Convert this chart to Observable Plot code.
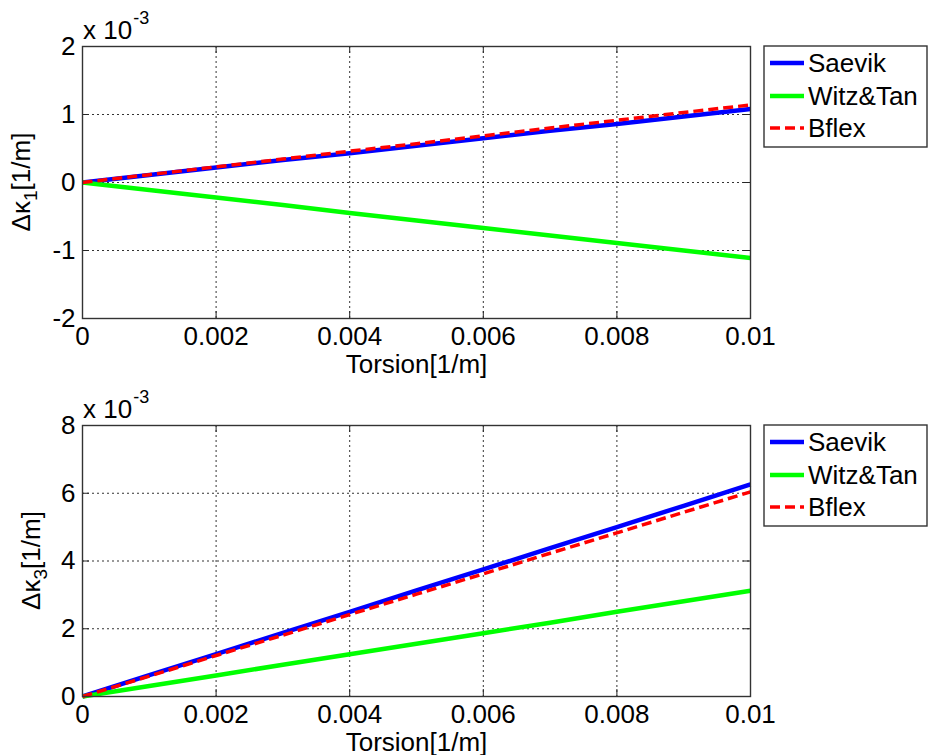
<!DOCTYPE html>
<html>
<head>
<meta charset="utf-8">
<script src="https://cdn.jsdelivr.net/npm/d3@7"></script>
<script src="https://cdn.jsdelivr.net/npm/@observablehq/plot@0.6"></script>
<style>
  html, body { margin: 0; padding: 0; background: #fff; }
  #fig { width: 928px; height: 755px; overflow: hidden; }
  #fig svg { display: block; }
</style>
</head>
<body>
<div id="fig"></div>
<script>
// Torsion [1/m] sample points
const torsion = [0, 0.001, 0.002, 0.003, 0.004, 0.005, 0.006, 0.007, 0.008, 0.009, 0.01];

// Δκ1 [1/m], in units of 1e-3
const k1Saevik = [0, 0.11, 0.22, 0.33, 0.43, 0.54, 0.65, 0.76, 0.86, 0.97, 1.08];
const k1Witz   = [0, -0.11, -0.22, -0.33, -0.45, -0.56, -0.67, -0.78, -0.89, -1.00, -1.11];
const k1Bflex  = [0, 0.115, 0.23, 0.345, 0.46, 0.57, 0.685, 0.80, 0.915, 1.03, 1.14];

// Δκ3 [1/m], in units of 1e-3
const k3Saevik = [0, 0.63, 1.25, 1.88, 2.50, 3.13, 3.75, 4.38, 5.00, 5.63, 6.26];
const k3Witz   = [0, 0.31, 0.62, 0.94, 1.25, 1.56, 1.87, 2.18, 2.50, 2.81, 3.12];
const k3Bflex  = [0, 0.60, 1.21, 1.81, 2.42, 3.02, 3.62, 4.23, 4.83, 5.44, 6.04];

const seriesNames = ["Saevik", "Witz&Tan", "Bflex"];

// Axis ticks and their labels
const xTicks = [0, 0.002, 0.004, 0.006, 0.008, 0.01];
const xTickLabels = ["0", "0.002", "0.004", "0.006", "0.008", "0.01"];
const k1Ticks = [-2, -1, 0, 1, 2];
const k1TickLabels = ["-2", "-1", "0", "1", "2"];
const k3Ticks = [0, 2, 4, 6, 8];
const k3TickLabels = ["0", "2", "4", "6", "8"];

const xLabel = "Torsion[1/m]";
const exponentText = ["x 10", "-3"];

// Line styles for each series
const styles = [
  {stroke: "#0000ff", strokeWidth: 4.5, dash: null},
  {stroke: "#00ff00", strokeWidth: 4.5, dash: null},
  {stroke: "#ff0000", strokeWidth: 3.5, dash: "10,5"}
];

const FONT = "'Liberation Sans', Arial, Helvetica, sans-serif";
const W = 928, ML = 82, MR = 178;
const TICK = 7;

function rows(values) {
  return torsion.map((t, i) => ({t, v: values[i]}));
}

function panel({height, marginTop, marginBottom, yDomain, yTicks, yTickLabels, series, sub, labelX}) {
  const plotW = W - ML - MR;
  const plotH = height - marginTop - marginBottom;
  const fmtX = d => xTickLabels[xTicks.indexOf(d)];
  const fmtY = d => yTickLabels[yTicks.indexOf(d)];
  const gridStyle = {stroke: "#000", strokeOpacity: 0.8, strokeWidth: 1, strokeDasharray: "2,3"};
  const tickStyle = {stroke: "#262626", strokeWidth: 1};
  const svg = Plot.plot({
    width: W, height, marginTop, marginBottom, marginLeft: ML, marginRight: MR,
    style: {fontFamily: FONT, fontSize: "26px", color: "#000", background: "#fff", overflow: "visible"},
    x: {domain: [0, 0.01]},
    y: {domain: yDomain},
    marks: [
      Plot.gridX(xTicks.slice(1, -1), gridStyle),
      Plot.gridY(yTicks.slice(1, -1), gridStyle),
      Plot.tickX(xTicks, {x: d => d, insetTop: plotH - TICK, ...tickStyle}),
      Plot.tickX(xTicks, {x: d => d, insetBottom: plotH - TICK, ...tickStyle}),
      Plot.tickY(yTicks, {y: d => d, insetRight: plotW - TICK, ...tickStyle}),
      Plot.tickY(yTicks, {y: d => d, insetLeft: plotW - TICK, ...tickStyle}),
      Plot.axisX(xTicks, {tickSize: 0, tickPadding: 8, tickFormat: fmtX, fontSize: 26,
        label: xLabel, labelAnchor: "center", labelArrow: "none", labelOffset: 54}),
      Plot.axisY(yTicks, {tickSize: 0, tickPadding: 7, tickFormat: fmtY, fontSize: 26, label: null}),
      ...series.map((vals, i) => Plot.line(rows(vals), {
        x: "t", y: "v", stroke: styles[i].stroke, strokeWidth: styles[i].strokeWidth,
        strokeDasharray: styles[i].dash, strokeLinecap: "butt", strokeLinejoin: "round"
      })),
      Plot.frame({stroke: "#333", strokeWidth: 1.4})
    ]
  });

  const s = d3.select(svg);

  // exponent note above the axes
  const ex = s.append("text")
    .attr("x", ML + 1).attr("y", marginTop - 7)
    .attr("text-anchor", "start")
    .attr("font-family", FONT).attr("font-size", 26).attr("fill", "#000");
  ex.append("tspan").text(exponentText[0]);
  ex.append("tspan").attr("dy", -15).attr("font-size", 18).attr("dx", 1).text(exponentText[1]);

  // y-axis title with subscript
  const cy = marginTop + plotH / 2;
  const yl = s.append("text")
    .attr("transform", `translate(${labelX},${cy}) rotate(-90)`)
    .attr("text-anchor", "middle")
    .attr("font-family", FONT).attr("font-size", 26).attr("fill", "#000");
  yl.append("tspan").text("Δκ");
  yl.append("tspan").attr("dy", 7).attr("font-size", 19).text(sub);
  yl.append("tspan").attr("dy", -7).text("[1/m]");

  // legend box
  const lx = 764, ly = marginTop, lw = 163, lh = 101;
  const lg = s.append("g").attr("text-anchor", "start");
  lg.append("rect").attr("x", lx).attr("y", ly).attr("width", lw).attr("height", lh)
    .attr("fill", "#fff").attr("stroke", "#333").attr("stroke-width", 1.4);
  const rowY = [17, 50, 82];
  seriesNames.forEach((name, i) => {
    const y = ly + rowY[i];
    lg.append("line").attr("x1", lx + 6).attr("x2", lx + 40).attr("y1", y).attr("y2", y)
      .attr("stroke", styles[i].stroke).attr("stroke-width", styles[i].strokeWidth)
      .attr("stroke-dasharray", styles[i].dash);
    lg.append("text").attr("x", lx + 44).attr("y", y).attr("dy", "0.36em")
      .attr("text-anchor", "start")
      .attr("font-family", FONT).attr("font-size", 26).attr("fill", "#000").text(name);
  });
  return svg;
}

const fig = document.getElementById("fig");
fig.appendChild(panel({
  height: 378, marginTop: 46, marginBottom: 60,
  yDomain: [-2, 2], yTicks: k1Ticks, yTickLabels: k1TickLabels,
  series: [k1Saevik, k1Witz, k1Bflex], sub: "1", labelX: 30
}));
fig.appendChild(panel({
  height: 377, marginTop: 47, marginBottom: 59,
  yDomain: [0, 8], yTicks: k3Ticks, yTickLabels: k3TickLabels,
  series: [k3Saevik, k3Witz, k3Bflex], sub: "3", labelX: 40
}));
</script>
</body>
</html>
